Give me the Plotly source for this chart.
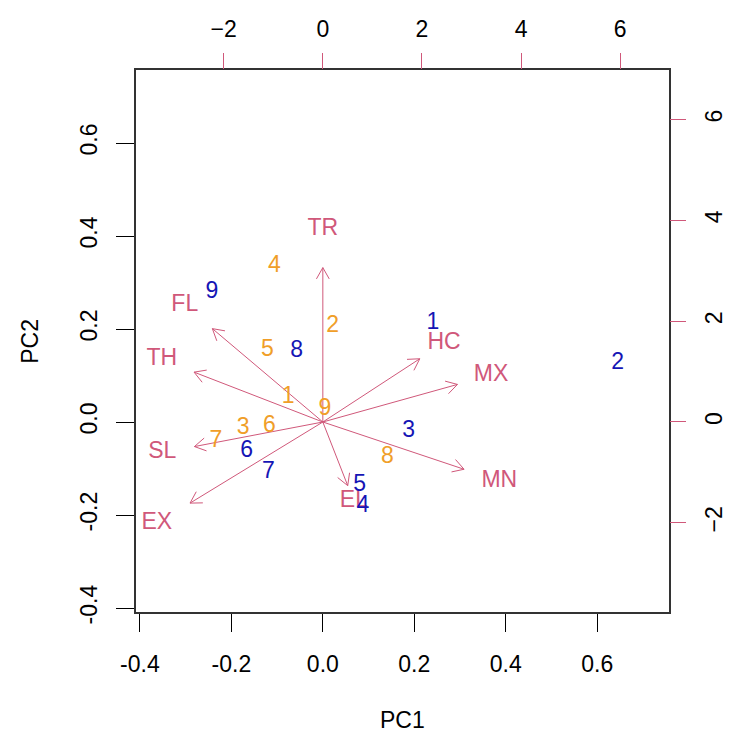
import math
import plotly.graph_objects as go

# ---------------- data ----------------
var_labels = ["TR", "FL", "TH", "SL", "EX", "HC", "MX", "MN", "EL"]
load_pc1 = [0.000, -0.302, -0.352, -0.351, -0.363, 0.265, 0.368, 0.386, 0.068]
load_pc2 = [0.415, 0.251, 0.134, -0.066, -0.218, 0.170, 0.101, -0.127, -0.171]

orange_ids = ["1", "2", "3", "4", "5", "6", "7", "8", "9"]
orange_x = [-0.70, 0.20, -1.61, -0.98, -1.12, -1.08, -2.16, 1.30, 0.04]
orange_y = [0.50, 1.89, -0.12, 3.09, 1.42, -0.09, -0.39, -0.69, 0.26]

blue_ids = ["1", "2", "3", "4", "5", "6", "7", "8", "9"]
blue_x = [2.22, 5.95, 1.73, 0.81, 0.74, -1.54, -1.10, -0.53, -2.24]
blue_y = [1.96, 1.17, -0.19, -1.68, -1.25, -0.59, -0.99, 1.40, 2.57]

pc1_ticks = [-0.4, -0.2, 0.0, 0.2, 0.4, 0.6]
pc1_ticktext = ["-0.4", "-0.2", "0.0", "0.2", "0.4", "0.6"]
pc2_ticks = [-0.4, -0.2, 0.0, 0.2, 0.4, 0.6]
pc2_ticktext = ["-0.4", "-0.2", "0.0", "0.2", "0.4", "0.6"]
score_ticks = [-2, 0, 2, 4, 6]

# ---------------- style ----------------
PINK = "#D0587A"
ORANGE = "#F09E28"
BLUE = "#1515B5"
FONT = "Liberation Sans, Arial, sans-serif"
FS = 23

W, H = 739, 740
L, R, T, B = 136, 61, 70, 128
prim_range = [-0.4086, 0.757]
sec_range = [-3.77, 6.984]
arrow_frac = 0.8          # arrows drawn to 0.8 of loading (R biplot)
head_len = 0.028          # arrowhead length in PC units
head_ang = math.radians(30)

fig = go.Figure()

# arrows (shaft + open head), computed from loadings
ax_, ay_ = [], []
for x, y in zip(load_pc1, load_pc2):
    tx, ty = x * arrow_frac, y * arrow_frac
    ax_ += [0, tx, None]
    ay_ += [0, ty, None]
    ang = math.atan2(ty, tx)
    for s in (1, -1):
        hx = tx - head_len * math.cos(ang + s * head_ang)
        hy = ty - head_len * math.sin(ang + s * head_ang)
        ax_ += [tx, hx, None]
        ay_ += [ty, hy, None]
fig.add_trace(go.Scatter(x=ax_, y=ay_, mode="lines",
                         line=dict(color=PINK, width=1),
                         hoverinfo="skip", showlegend=False,
                         xaxis="x", yaxis="y"))

# variable labels
fig.add_trace(go.Scatter(x=load_pc1, y=load_pc2, mode="text", text=var_labels,
                         textposition="middle center",
                         textfont=dict(color=PINK, size=FS, family=FONT),
                         showlegend=False, xaxis="x", yaxis="y"))

# scores
fig.add_trace(go.Scatter(x=orange_x, y=orange_y, mode="text", text=orange_ids,
                         textposition="middle center",
                         textfont=dict(color=ORANGE, size=FS, family=FONT),
                         showlegend=False, xaxis="x2", yaxis="y2"))
fig.add_trace(go.Scatter(x=blue_x, y=blue_y, mode="text", text=blue_ids,
                         textposition="middle center",
                         textfont=dict(color=BLUE, size=FS, family=FONT),
                         showlegend=False, xaxis="x2", yaxis="y2"))

tickfont = dict(family=FONT, size=FS, color="black")
fig.update_layout(
    width=W, height=H,
    margin=dict(l=L, r=R, t=T, b=B),
    paper_bgcolor="white", plot_bgcolor="white",
    showlegend=False,
    xaxis=dict(range=prim_range, tickvals=pc1_ticks, ticktext=pc1_ticktext,
               ticks="outside", ticklen=18, tickcolor="black", tickwidth=1,
               showline=True, linecolor="#333333", linewidth=1.5, mirror=True,
               showgrid=False, zeroline=False, tickfont=tickfont,
               ticklabelstandoff=13),
    yaxis=dict(range=prim_range, tickvals=pc2_ticks, ticktext=pc2_ticktext,
               ticks="outside", ticklen=18, tickcolor="black", tickwidth=1,
               showline=True, linecolor="#333333", linewidth=1.5, mirror=True,
               showgrid=False, zeroline=False, tickfont=tickfont,
               tickangle=-90, ticklabelstandoff=10),
    xaxis2=dict(range=sec_range, overlaying="x", side="top", anchor="y",
                tickvals=score_ticks, ticks="outside", ticklen=16,
                tickcolor=PINK, tickwidth=1, showline=False, showgrid=False,
                zeroline=False, tickfont=tickfont, ticklabelstandoff=7),
    yaxis2=dict(range=sec_range, overlaying="y", side="right", anchor="x",
                tickvals=score_ticks, ticks="outside", ticklen=16,
                tickcolor=PINK, tickwidth=1, showline=False, showgrid=False,
                zeroline=False, tickfont=tickfont, tickangle=-90,
                ticklabelstandoff=8),
    annotations=[
        dict(text="PC1", xref="paper", yref="paper", x=0.5, y=-108 / 542,
             xanchor="center", yanchor="middle", showarrow=False,
             font=dict(family=FONT, size=FS, color="black")),
        dict(text="PC2", xref="paper", yref="paper", x=(28 - L) / 542, y=0.5,
             xanchor="center", yanchor="middle", showarrow=False, textangle=-90,
             font=dict(family=FONT, size=FS, color="black")),
    ],
)

fig.write_html("out.html")
